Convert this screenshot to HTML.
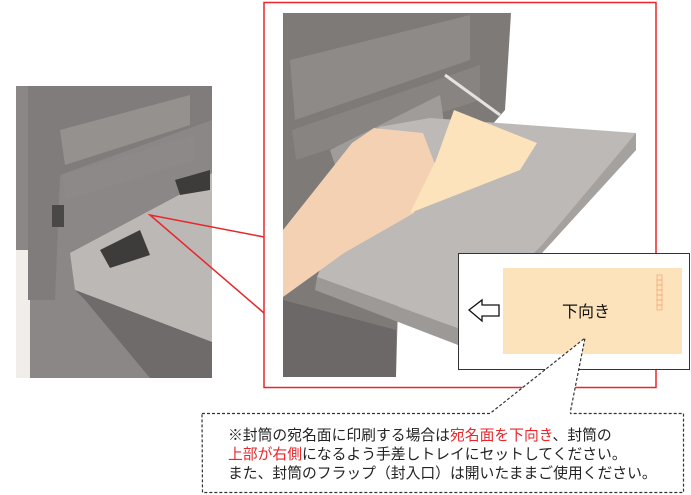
<!DOCTYPE html>
<html><head><meta charset="utf-8"><style>
html,body{margin:0;padding:0;background:#fff;width:691px;height:495px;overflow:hidden}
svg{position:absolute;left:0;top:0}
.t{position:absolute;left:228px;top:427px;font-family:"Liberation Sans","Noto Sans CJK JP",sans-serif;font-size:14.8px;line-height:19px;color:#222;white-space:nowrap}
.r{color:#e8262b}
</style></head><body>
<svg width="691" height="495" viewBox="0 0 691 495">
<polygon points="16,86 212,86 212,378 150,378 16,378" fill="#8a8786"/>
<polygon points="16,250 30,250 30,378 16,378" fill="#f1ede8"/>
<polygon points="16,86 212,86 212,120 60,175 55,300 28,300 28,86" fill="#7f7c7b"/>
<polygon points="60,130 190,95 190,125 65,165" fill="#95918f"/>
<polygon points="62,175 195,135 195,160 65,200" fill="#8d8988"/>
<polygon points="70,253 194,187 212,173 212,342 75,290" fill="#bcb8b5"/>
<polygon points="75,290 212,342 212,378 150,378 85,300" fill="#6e6b6a"/>
<polygon points="100,250 140,230 150,255 110,268" fill="#3e3c3b"/>
<polygon points="175,180 210,170 210,190 180,195" fill="#3e3c3b"/>
<rect x="52" y="205" width="12" height="22" fill="#4a4747"/>
<polyline points="264,237 150,215 264,313" fill="none" stroke="#e8262b" stroke-width="1.5"/>
<polygon points="283,13 511,13 505,110 400,230 396,377 283,377" fill="#7d7a78"/>
<polygon points="290,60 470,15 470,60 295,120" fill="#8e8a88"/>
<polygon points="292,130 480,65 480,100 296,160" fill="#888482"/>
<polygon points="330,150 440,95 445,130 340,180" fill="#a09c9a"/>
<polygon points="379,127 430,118 636,133 636,150 542,253 458,328 317,277" fill="#bdb9b6"/>
<polygon points="317,277 458,328 458,345 315,290" fill="#9d9997"/>
<polygon points="636,150 542,253 458,345 458,328 542,245 636,133" fill="#a5a19f"/>
<polygon points="283,300 396,330 396,377 283,377" fill="#6b6867"/>
<line x1="445" y1="75" x2="500" y2="115" stroke="#e5e3e1" stroke-width="3"/>
<polygon points="283,230 352,143 374,128 423,133 436,167 414,213 344,253 283,297" fill="#f3d1b2"/>
<polygon points="454,110 537,143 520,170 410,213 436,160" fill="#fde3bb"/>
<rect x="264" y="2.5" width="392" height="385" fill="none" stroke="#e8262b" stroke-width="1.5"/>
<rect x="458.5" y="253.5" width="231" height="116" fill="#fff" stroke="#333" stroke-width="1"/>
<rect x="503" y="268" width="179" height="86" fill="#fde3bb"/>
<g fill="none" stroke="#f5a878" stroke-width="0.8">
<rect x="657" y="275" width="5" height="5"/><rect x="657" y="280" width="5" height="5"/><rect x="657" y="285" width="5" height="5"/><rect x="657" y="290" width="5" height="5"/><rect x="657" y="295" width="5" height="5"/><rect x="657" y="300" width="5" height="5"/><rect x="657" y="305" width="5" height="5"/>
</g>
<polygon points="469,310 482,300 482,305 499,305 499,316 482,316 482,321" fill="#fff" stroke="#111" stroke-width="1.3"/>
<path d="M202,413.5 L490,413.5 L585,338 L570,413.5 L683.5,413.5 L683.5,492.5 L202.5,492.5 Z" fill="#fff" stroke="#333" stroke-width="1.2" stroke-dasharray="3,2"/>
<line x1="490" y1="413.5" x2="570" y2="413.5" stroke="#fff" stroke-width="2"/>
</svg>
<div style="position:absolute;left:562px;top:298px;font-family:'Liberation Sans','Noto Sans CJK JP',sans-serif;font-size:16px;color:#111">下向き</div>
<div class="t">※封筒の宛名面に印刷する場合は<span class="r">宛名面を下向き</span>、封筒の<br><span class="r">上部が右側</span>になるよう手差しトレイにセットしてください。<br>また、封筒のフラップ（封入口）は開いたままご使用ください。</div>
</body></html>
